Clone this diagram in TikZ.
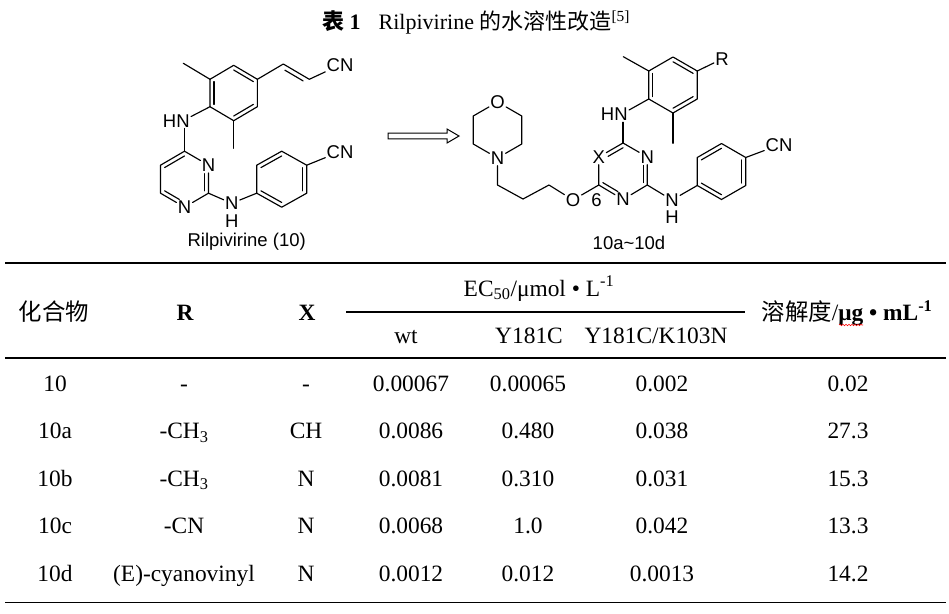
\documentclass[tikz,border=0pt]{standalone}
\usepackage{fontspec}
\setmainfont{Liberation Serif}
\setsansfont{Liberation Sans}
\newfontfamily\cjk{Noto Sans CJK SC}
\usetikzlibrary{calc,decorations.pathmorphing}
\tikzset{
  bond/.style={line width=1.15pt,line cap=round,line join=round},
  atom/.style={font=\sffamily\fontsize{18.5}{20}\selectfont,inner sep=1.4pt,outer sep=0pt},
  cell/.style={font=\fontsize{23.4}{26}\selectfont,anchor=base,inner sep=0pt},
  trule/.style={line width=1.3pt},
}
\newcommand\innerb[4][]{\draw[bond,#1] ($(#2)!0.17!(#4)$) -- ($(#3)!0.17!(#4)$);}
\begin{document}
\begin{tikzpicture}[x=1pt,y=-1pt]
\fill[white] (0,0) rectangle (949,613);
\useasboundingbox (0,0) rectangle (949,613);

% ---------- title ----------
\node[anchor=base west,font=\fontsize{22}{24}\selectfont,inner sep=0pt] (title) at (322,29)
  {{\cjk\bfseries 表} \textbf{1}\hspace{18pt}Rilpivirine {\cjk 的水溶性改造}\textsuperscript{[5]}};

% ---------- Rilpivirine ----------
\coordinate (Ac) at (233.7,93);
\coordinate (A1) at (210,106.7);
\coordinate (A2) at (210,79.3);
\coordinate (A3) at (233.7,65.3);
\coordinate (A4) at (257.4,79.3);
\coordinate (A5) at (257.4,106.7);
\coordinate (A6) at (233.7,120.7);
\coordinate (Am1) at (183.3,63.3);
\coordinate (Am2) at (233.7,148.3);
\coordinate (V1) at (283.3,64);
\coordinate (V2) at (309.3,79.3);
\node[atom] (cn1) at (340,65) {CN};
\draw[bond] (A1)--(A2)--(A3)--(A4)--(A5)--(A6)--cycle;
\innerb{A1}{A2}{Ac} \innerb{A3}{A4}{Ac} \innerb{A5}{A6}{Ac}
\draw[bond] (A2)--(Am1);
\draw[bond] (A6)--(Am2);
\draw[bond] (A4)--(V1)--(V2)--(cn1);
\draw[bond] ($($(V1)!0.15!(V2)$)+(-2.3,3.9)$) -- ($($(V2)!0.15!(V1)$)+(-2.3,3.9)$);

\node[atom] (hn1) at (183,120.7) {N};
\node[atom] (hh1) at (169.6,120.7) {H};
\draw[bond] (hn1)--(A1);

\coordinate (Pc) at (184.5,179.2);
\coordinate (P1) at (184.5,151.2);
\node[atom] (P2) at (208.5,165.2) {N};
\coordinate (P3) at (208.5,193.2);
\node[atom] (P4) at (184.5,207.2) {N};
\coordinate (P5) at (160.5,193.2);
\coordinate (P6) at (160.5,165.2);
\draw[bond] (P1)--(P2)--(P3)--(P4)--(P5)--(P6)--(P1);
\draw[bond] (P1)--(P1|-hn1.south);
\innerb{P1}{P6}{Pc}
\innerb[shorten <=6pt]{P2}{P3}{Pc}
\innerb[shorten <=6pt]{P4}{P5}{Pc}

\node[atom] (nh1) at (231.7,203.3) {N};
\node[atom] (hb1) at (231.7,221.3) {H};
\coordinate (Qc) at (281.7,179.2);
\coordinate (Q1) at (256.7,193.2);
\coordinate (Q2) at (256.7,165.2);
\coordinate (Q3) at (281.7,151.2);
\coordinate (Q4) at (306.7,165.2);
\coordinate (Q5) at (306.7,193.2);
\coordinate (Q6) at (281.7,207.2);
\draw[bond] (P3)--(nh1)--(Q1);
\draw[bond] (Q1)--(Q2)--(Q3)--(Q4)--(Q5)--(Q6)--cycle;
\innerb{Q2}{Q3}{Qc} \innerb{Q4}{Q5}{Qc} \innerb{Q6}{Q1}{Qc}
\node[atom] (cn2) at (340,151.7) {CN};
\draw[bond] (Q4)--(cn2);
\node[atom,anchor=base] (lab1) at (246.7,246.6) {Rilpivirine (10)};

% ---------- arrow ----------
\coordinate (arL) at (388,136);
\draw[line width=1pt,line join=miter] (arL) ++(0,-2.8) -- ++(59,0) -- ++(0,-4.2) -- ++(12,7) -- ++(-12,7) -- ++(0,-4.2) -- ++(-59,0) -- cycle;

% ---------- 10a~10d ----------
\node[atom] (mO) at (497.5,102) {O};
\node[atom] (mN) at (497.5,158) {N};
\coordinate (M2) at (521.75,116);
\coordinate (M3) at (521.75,144);
\coordinate (M5) at (473.25,144);
\coordinate (M6) at (473.25,116);
\draw[bond] (mO)--(M2)--(M3)--(mN)--(M5)--(M6)--(mO);
\coordinate (c1) at (497.5,185);
\coordinate (c2) at (523,199);
\coordinate (c3) at (549,185);
\node[atom] (oE) at (573,200) {O};
\coordinate (Tc) at (623,171);
\coordinate (T1) at (623,143);
\node[atom] (T2) at (647.25,157) {N};
\coordinate (T3) at (647.25,185);
\node[atom] (T4) at (623,199.5) {N};
\coordinate (T5) at (598.75,185);
\node[atom] (T6) at (598.75,157) {X};
\node[atom] (six) at (596.5,200.5) {6};
\draw[bond] (mN)--(c1)--(c2)--(c3)--(oE)--(T5);
\draw[bond] (T1)--(T2)--(T3)--(T4)--(T5)--(T6)--(T1);
\innerb[shorten <=6pt]{T6}{T1}{Tc}
\innerb[shorten <=6pt]{T2}{T3}{Tc}
\innerb[shorten <=6pt]{T4}{T5}{Tc}

\node[atom] (hn2) at (621,114.5) {N};
\node[atom] (hh2) at (607.6,114.5) {H};
\draw[bond] (T1)--(T1|-hn2.south);
\coordinate (Bc) at (673,85);
\coordinate (B1) at (648.75,99);
\coordinate (B2) at (648.75,71);
\coordinate (B3) at (673,57);
\coordinate (B4) at (697.25,71);
\coordinate (B5) at (697.25,99);
\coordinate (B6) at (673,113);
\draw[bond] (hn2)--(B1);
\draw[bond] (B1)--(B2)--(B3)--(B4)--(B5)--(B6)--cycle;
\innerb{B1}{B2}{Bc} \innerb{B3}{B4}{Bc} \innerb{B5}{B6}{Bc}
\coordinate (Bm1) at (623.3,56.7);
\coordinate (Bm2) at (673,143.3);
\draw[bond] (B2)--(Bm1);
\draw[bond] (B6)--(Bm2);
\node[atom] (rR) at (722,59) {R};
\draw[bond] (B4)--(rR);

\node[atom] (nh2) at (672,200) {N};
\node[atom] (hb2) at (672,217.5) {H};
\coordinate (Rc) at (721.5,171.5);
\coordinate (R1) at (697.25,185.5);
\coordinate (R2) at (697.25,157.5);
\coordinate (R3) at (721.5,143.5);
\coordinate (R4) at (745.75,157.5);
\coordinate (R5) at (745.75,185.5);
\coordinate (R6) at (721.5,199.5);
\draw[bond] (T3)--(nh2)--(R1);
\draw[bond] (R1)--(R2)--(R3)--(R4)--(R5)--(R6)--cycle;
\innerb{R2}{R3}{Rc} \innerb{R4}{R5}{Rc} \innerb{R6}{R1}{Rc}
\node[atom] (cn3) at (779,145) {CN};
\draw[bond] (R4)--(cn3);
\node[atom,anchor=base] (lab2) at (629,249) {10a\textasciitilde 10d};

% ---------- table ----------
\draw[trule] (5,263) -- (946,263);
\draw[trule] (346,312) -- (745,312);
\draw[trule] (5,358) -- (946,358);
\draw[trule] (5,602.5) -- (946,602.5);

\node[cell] (h1) at (54,320.5) {\cjk 化合物};
\node[cell] (h2) at (185,320.5) {\bfseries R};
\node[cell] (h3) at (307,320.5) {\bfseries X};
\node[cell] (h4) at (539,296) {EC\textsubscript{50}/μmol • L\textsuperscript{-1}};
\node[cell] (h5) at (847,320.5) {{\cjk 溶解度}/\textbf{μg • mL\textsuperscript{-1}}};
\node[cell] (s1) at (406,343.5) {wt};
\node[cell] (s2) at (529,343.5) {Y181C};
\node[cell] (s3) at (656,343.5) {Y181C/K103N};
\draw[red,line width=0.6pt,decorate,decoration={snake,amplitude=0.7pt,segment length=3pt}] (839,325) -- (863,325);

\foreach \n/\r/\x/\a/\b/\c/\s [count=\i from 0] in {
  10/-/-/0.00067/0.00065/0.002/0.02,
  10a/-CH\textsubscript{3}/CH/0.0086/0.480/0.038/27.3,
  10b/-CH\textsubscript{3}/N/0.0081/0.310/0.031/15.3,
  10c/-CN/N/0.0068/1.0/0.042/13.3,
  10d/(E)-cyanovinyl/N/0.0012/0.012/0.0013/14.2}{
  \pgfmathsetmacro\yy{391+47.5*\i}
  \node[cell] (t\i c1) at (55,\yy) {\n};
  \node[cell] (t\i c2) at (184,\yy) {\r};
  \node[cell] (t\i c3) at (306,\yy) {\x};
  \node[cell] (t\i c4) at (411,\yy) {\a};
  \node[cell] (t\i c5) at (528,\yy) {\b};
  \node[cell] (t\i c6) at (662,\yy) {\c};
  \node[cell] (t\i c7) at (848,\yy) {\s};
}
\end{tikzpicture}
\end{document}
